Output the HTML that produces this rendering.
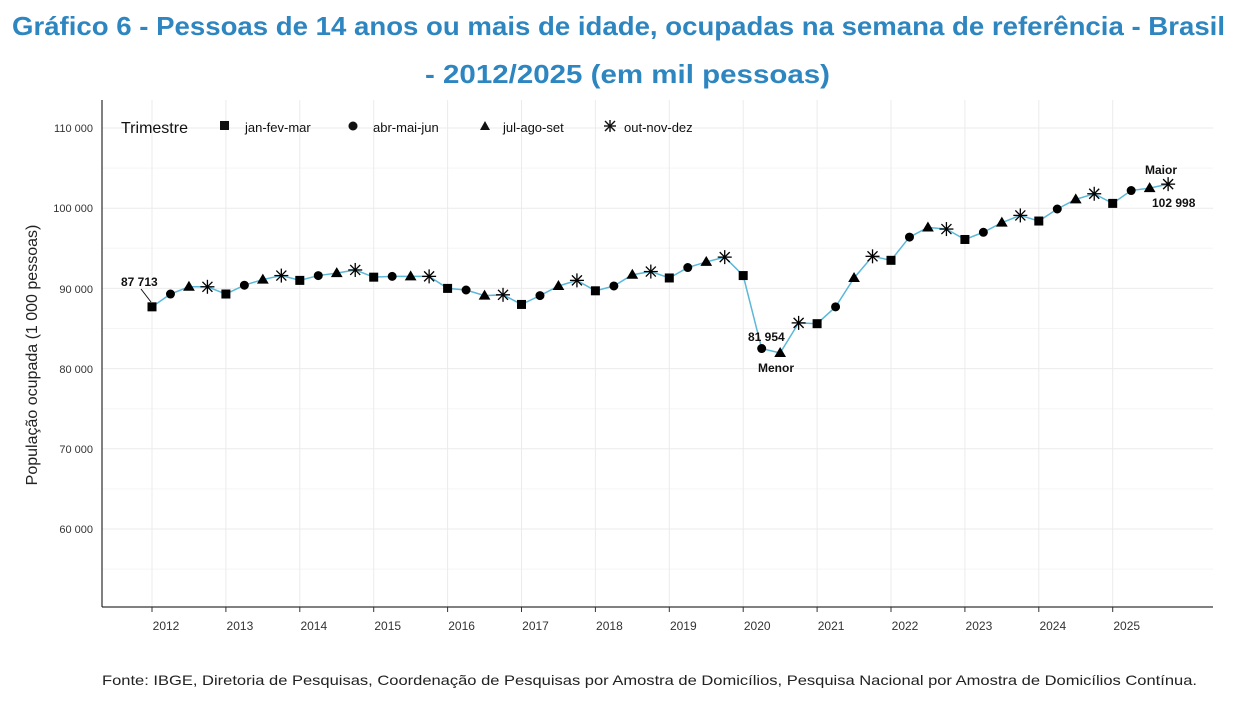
<!DOCTYPE html>
<html><head><meta charset="utf-8"><style>
body{margin:0;background:#fff;width:1260px;height:720px;overflow:hidden}
svg{display:block}
</style></head><body>
<svg id="s" width="1260" height="720" xmlns="http://www.w3.org/2000/svg" font-family="Liberation Sans, Arial, sans-serif">
<text x="12" y="35" font-size="26" font-weight="bold" fill="#2e86c1" textLength="1213" lengthAdjust="spacingAndGlyphs">Gráfico 6 - Pessoas de 14 anos ou mais de idade, ocupadas na semana de referência - Brasil</text>
<text x="425" y="83" font-size="26" font-weight="bold" fill="#2e86c1" textLength="405" lengthAdjust="spacingAndGlyphs">- 2012/2025 (em mil pessoas)</text>
<g id="grid" stroke="#ebebeb" stroke-width="1"></g>
<line x1="102" y1="100" x2="102" y2="607" stroke="#000"/>
<line x1="102" y1="607" x2="1213" y2="607" stroke="#000"/>
<g font-size="11" fill="#333" text-anchor="end">
<text x="93" y="132">110 000</text><text x="93" y="212">100 000</text><text x="93" y="293">90 000</text>
<text x="93" y="373">80 000</text><text x="93" y="453">70 000</text><text x="93" y="533">60 000</text>
</g>
<g id="xt" font-size="12" fill="#333" text-anchor="middle"></g>
<text transform="translate(37,355) rotate(-90)" text-anchor="middle" font-size="16" fill="#222">População ocupada (1 000 pessoas)</text>
<polyline id="ln" fill="none" stroke="#5bb8d8" stroke-width="1.5"/>
<g id="mk" fill="#000" stroke="#000"></g>
<g font-size="13" fill="#111">
<text x="121" y="133" font-size="16">Trimestre</text>
<rect x="220" y="121" width="9" height="9"/><text x="245" y="132">jan-fev-mar</text>
<circle cx="353" cy="126" r="4.5"/><text x="373" y="132">abr-mai-jun</text>
<polygon points="485,121 490,130 480,130"/><text x="503" y="132">jul-ago-set</text>
<g stroke="#111" stroke-width="1.4"><line x1="604" y1="126" x2="616" y2="126"/><line x1="610" y1="120" x2="610" y2="132"/><line x1="605" y1="121" x2="615" y2="131"/><line x1="615" y1="121" x2="605" y2="131"/></g>
<text x="624" y="132">out-nov-dez</text>
</g>
<g font-size="12" font-weight="bold" fill="#111">
<text x="121" y="286">87 713</text>
<line x1="141" y1="289" x2="151" y2="302" stroke="#111"/>
<text x="748" y="341">81 954</text>
<text x="758" y="372">Menor</text>
<text x="1145" y="174">Maior</text>
<text x="1152" y="207">102 998</text>
</g>
<text x="102" y="685" font-size="14" fill="#222" textLength="1095" lengthAdjust="spacingAndGlyphs">Fonte: IBGE, Diretoria de Pesquisas, Coordenação de Pesquisas por Amostra de Domicílios, Pesquisa Nacional por Amostra de Domicílios Contínua.</text>
</svg>
<script>
var NS="http://www.w3.org/2000/svg";
function el(t,a,p){var e=document.createElementNS(NS,t);for(var k in a)e.setAttribute(k,a[k]);p.appendChild(e);return e;}
var g=document.getElementById('grid'),xt=document.getElementById('xt'),mk=document.getElementById('mk');
var step=73.9;
function X(y,q){return 152+(y-2012+q/4)*step}
function Y(v){return 128+(110-v)*8.02}
[110,100,90,80,70,60].forEach(function(v){el('line',{x1:102,x2:1213,y1:Y(v),y2:Y(v)},g)});
[105,95,85,75,65,55].forEach(function(v){el('line',{x1:102,x2:1213,y1:Y(v),y2:Y(v),stroke:'#f5f5f5'},g)});
for(var y=2012;y<=2025;y++){var x=X(y,0);el('line',{x1:x,x2:x,y1:100,y2:607},g);
el('line',{x1:x,x2:x,y1:607,y2:612,stroke:'#333'},xt);var t=el('text',{x:x+14,y:630},xt);t.textContent=y;}
var d=[87.7,89.3,90.2,90.2, 89.3,90.4,91.1,91.6, 91.0,91.6,91.9,92.3, 91.4,91.5,91.5,91.5,
90.0,89.8,89.1,89.2, 88.0,89.1,90.3,91.0, 89.7,90.3,91.7,92.1, 91.3,92.6,93.3,93.9,
91.6,82.5,81.95,85.7, 85.6,87.7,91.3,94.0, 93.5,96.4,97.6,97.4, 96.1,97.0,98.2,99.1,
98.4,99.9,101.1,101.8, 100.6,102.2,102.5,103.0];
var pts=[];
d.forEach(function(v,i){var yr=2012+Math.floor(i/4),q=i%4,x=X(yr,q),yy=Y(v);pts.push(x+','+yy);
if(q==0)el('rect',{x:x-4,y:yy-4,width:8,height:8},mk);
else if(q==1)el('circle',{cx:x,cy:yy,r:4},mk);
else if(q==2)el('polygon',{points:(x)+','+(yy-5)+' '+(x+5)+','+(yy+3.5)+' '+(x-5)+','+(yy+3.5)},mk);
else{var a=el('g',{'stroke-width':1.3},mk);el('line',{x1:x-7,x2:x+7,y1:yy,y2:yy},a);el('line',{x1:x,x2:x,y1:yy-7,y2:yy+7},a);el('line',{x1:x-5,x2:x+5,y1:yy-5,y2:yy+5},a);el('line',{x1:x+5,x2:x-5,y1:yy-5,y2:yy+5},a);}
});
document.getElementById('ln').setAttribute('points',pts.join(' '));
</script>
</body></html>
